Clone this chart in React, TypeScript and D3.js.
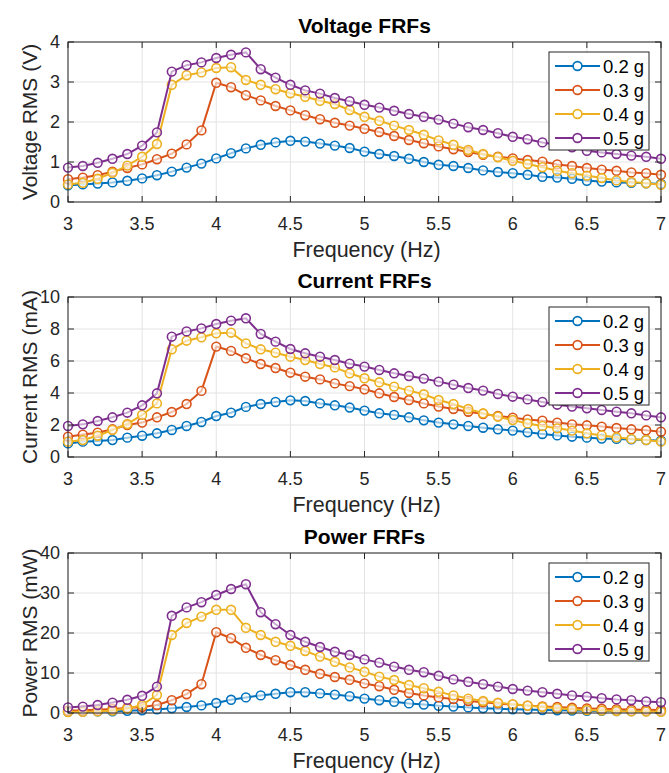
import * as d3 from 'd3';
import React from 'react';

// frequency points (Hz)
const freq = [3.0, 3.1, 3.2, 3.3, 3.4, 3.5, 3.6, 3.7, 3.8, 3.9, 4.0, 4.1, 4.2, 4.3, 4.4, 4.5, 4.6, 4.7, 4.8, 4.9,
  5.0, 5.1, 5.2, 5.3, 5.4, 5.5, 5.6, 5.7, 5.8, 5.9, 6.0, 6.1, 6.2, 6.3, 6.4, 6.5, 6.6, 6.7, 6.8, 6.9, 7.0];

const levels = ['0.2 g', '0.3 g', '0.4 g', '0.5 g'];
const colors = ['#0072BD', '#D95319', '#EDB120', '#7E2F8E'];
const xTicks = [3, 3.5, 4, 4.5, 5, 5.5, 6, 6.5, 7];

// voltage RMS (V)
const volt02 = [0.42, 0.44, 0.46, 0.49, 0.53, 0.59, 0.67, 0.76, 0.86, 0.96, 1.09, 1.22, 1.34, 1.43, 1.49, 1.53, 1.51, 1.46, 1.41, 1.35,
  1.26, 1.20, 1.15, 1.08, 1.00, 0.93, 0.90, 0.85, 0.79, 0.75, 0.72, 0.68, 0.63, 0.61, 0.58, 0.53, 0.51, 0.49, 0.48, 0.47, 0.45];
const volt03 = [0.57, 0.61, 0.67, 0.76, 0.85, 0.94, 1.07, 1.21, 1.44, 1.79, 2.98, 2.87, 2.67, 2.54, 2.40, 2.29, 2.17, 2.07, 1.98, 1.91,
  1.83, 1.75, 1.65, 1.55, 1.47, 1.39, 1.32, 1.25, 1.18, 1.13, 1.09, 1.05, 1.01, 0.94, 0.90, 0.85, 0.81, 0.78, 0.74, 0.72, 0.68];
const volt04 = [0.44, 0.48, 0.58, 0.73, 0.91, 1.13, 1.45, 2.93, 3.17, 3.24, 3.35, 3.37, 3.05, 2.93, 2.82, 2.72, 2.63, 2.53, 2.45, 2.30,
  2.13, 2.03, 1.91, 1.80, 1.68, 1.54, 1.43, 1.30, 1.20, 1.12, 1.03, 0.95, 0.87, 0.78, 0.72, 0.66, 0.60, 0.54, 0.50, 0.47, 0.43];
const volt05 = [0.86, 0.90, 0.98, 1.08, 1.20, 1.41, 1.74, 3.26, 3.42, 3.49, 3.60, 3.68, 3.74, 3.32, 3.11, 2.93, 2.79, 2.71, 2.60, 2.52,
  2.43, 2.36, 2.28, 2.20, 2.13, 2.06, 1.96, 1.87, 1.80, 1.72, 1.63, 1.57, 1.49, 1.43, 1.37, 1.28, 1.24, 1.20, 1.16, 1.13, 1.08];

// current RMS (mA)
const curr02 = [0.85, 0.96, 1.00, 1.06, 1.21, 1.33, 1.48, 1.69, 1.94, 2.19, 2.56, 2.77, 3.13, 3.31, 3.44, 3.54, 3.50, 3.35, 3.23, 3.09,
  2.90, 2.73, 2.63, 2.48, 2.29, 2.15, 2.04, 1.94, 1.83, 1.73, 1.65, 1.54, 1.44, 1.35, 1.27, 1.21, 1.15, 1.13, 1.10, 1.06, 1.02];
const curr03 = [1.27, 1.40, 1.52, 1.73, 2.00, 2.15, 2.48, 2.81, 3.31, 4.13, 6.90, 6.63, 6.17, 5.81, 5.56, 5.27, 5.02, 4.85, 4.60, 4.43,
  4.23, 3.98, 3.75, 3.56, 3.35, 3.15, 3.00, 2.83, 2.69, 2.56, 2.46, 2.35, 2.27, 2.15, 2.04, 1.98, 1.90, 1.81, 1.73, 1.67, 1.58];
const curr04 = [0.96, 1.06, 1.33, 1.69, 2.06, 2.63, 3.35, 6.73, 7.27, 7.48, 7.73, 7.77, 7.10, 6.73, 6.52, 6.27, 6.06, 5.81, 5.60, 5.23,
  4.92, 4.67, 4.40, 4.15, 3.92, 3.56, 3.31, 3.00, 2.73, 2.52, 2.31, 2.10, 1.94, 1.79, 1.65, 1.48, 1.35, 1.23, 1.13, 1.06, 0.96];
const curr05 = [1.94, 2.04, 2.25, 2.48, 2.77, 3.23, 3.98, 7.52, 7.85, 8.04, 8.31, 8.52, 8.67, 7.69, 7.21, 6.75, 6.48, 6.27, 6.06, 5.83,
  5.65, 5.44, 5.23, 5.06, 4.90, 4.71, 4.52, 4.31, 4.15, 3.94, 3.77, 3.60, 3.44, 3.27, 3.15, 3.04, 2.94, 2.83, 2.73, 2.60, 2.48];

// power RMS (mW)
const pow02 = [0.3, 0.35, 0.4, 0.45, 0.55, 0.7, 0.9, 1.2, 1.5, 1.9, 2.5, 3.3, 3.9, 4.4, 4.8, 5.2, 5.2, 4.9, 4.6, 4.2,
  3.6, 3.2, 2.8, 2.4, 2.1, 1.8, 1.6, 1.4, 1.2, 1.05, 0.95, 0.85, 0.75, 0.7, 0.62, 0.56, 0.52, 0.5, 0.48, 0.46, 0.44];
const pow03 = [0.6, 0.67, 0.83, 1.0, 1.25, 1.5, 2.0, 3.2, 4.7, 7.2, 20.2, 18.7, 16.3, 14.5, 13.2, 12.0, 10.8, 9.8, 9.0, 8.3,
  7.4, 6.7, 5.8, 5.0, 4.4, 3.9, 3.5, 3.0, 2.7, 2.4, 2.1, 1.85, 1.65, 1.5, 1.3, 1.15, 1.05, 0.95, 0.85, 0.8, 0.75];
const pow04 = [0.25, 0.3, 0.4, 0.6, 1.1, 2.0, 4.5, 19.5, 22.5, 24.1, 25.8, 25.8, 21.3, 19.5, 17.8, 16.8, 15.5, 14.1, 12.8, 11.4,
  10.3, 9.1, 8.25, 7.0, 6.2, 5.3, 4.4, 3.6, 3.0, 2.6, 2.2, 1.85, 1.5, 1.2, 0.95, 0.75, 0.6, 0.5, 0.4, 0.35, 0.3];
const pow05 = [1.4, 1.6, 2.0, 2.6, 3.3, 4.3, 6.6, 24.3, 26.4, 27.7, 29.5, 31.0, 32.2, 25.2, 22.2, 19.5, 17.8, 16.5, 15.3, 14.5,
  13.4, 12.6, 11.6, 10.8, 10.2, 9.3, 8.4, 7.8, 7.2, 6.6, 6.0, 5.6, 5.2, 4.8, 4.4, 4.1, 3.7, 3.4, 3.2, 2.9, 2.7];

const font = '"Liberation Sans", Arial, Helvetica, sans-serif';
const axisColor = '#262626';
const left = 68, right = 661;

function Panel({ title, ylabel, yTicks, series, top, bottom }) {
  const x = d3.scaleLinear().domain([3, 7]).range([left, right]);
  const y = d3.scaleLinear().domain([yTicks[0], yTicks[yTicks.length - 1]]).range([bottom, top]);
  const line = d3.line<number>().x((d, i) => x(freq[i])).y(d => y(d));
  const tl = 6;

  return (
    <g>
      {/* grid */}
      {xTicks.map(t => (
        <line key={'gx' + t} x1={x(t)} x2={x(t)} y1={top} y2={bottom} stroke="#e3e3e3" strokeWidth={1} />
      ))}
      {yTicks.map(t => (
        <line key={'gy' + t} x1={left} x2={right} y1={y(t)} y2={y(t)} stroke="#e3e3e3" strokeWidth={1} />
      ))}

      {/* series */}
      {series.map((s, k) => (
        <g key={'s' + k}>
          <path d={line(s) || ''} fill="none" stroke={colors[k]} strokeWidth={2} />
          {s.map((v, i) => (
            <circle key={i} cx={x(freq[i])} cy={y(v)} r={4.4} fill="white" fillOpacity={0.6} stroke={colors[k]} strokeWidth={1.6} />
          ))}
        </g>
      ))}

      {/* box and ticks */}
      <rect x={left} y={top} width={right - left} height={bottom - top} fill="none" stroke={axisColor} strokeWidth={1} />
      {xTicks.map(t => (
        <g key={'tx' + t}>
          <line x1={x(t)} x2={x(t)} y1={bottom} y2={bottom - tl} stroke={axisColor} />
          <line x1={x(t)} x2={x(t)} y1={top} y2={top + tl} stroke={axisColor} />
          <text x={x(t)} y={bottom + 28} textAnchor="middle" fontSize={18} fill={axisColor} fontFamily={font}>{t}</text>
        </g>
      ))}
      {yTicks.map(t => (
        <g key={'ty' + t}>
          <line x1={left} x2={left + tl} y1={y(t)} y2={y(t)} stroke={axisColor} />
          <line x1={right} x2={right - tl} y1={y(t)} y2={y(t)} stroke={axisColor} />
          <text x={left - 8} y={y(t)} dy="0.36em" textAnchor="end" fontSize={18} fill={axisColor} fontFamily={font}>{t}</text>
        </g>
      ))}

      {/* labels */}
      <text x={(left + right) / 2} y={top - 9} textAnchor="middle" fontSize={21} fontWeight="bold" fill="#000" fontFamily={font}>{title}</text>
      <text x={(left + right) / 2 + 2} y={bottom + 55} textAnchor="middle" fontSize={21.5} fill={axisColor} fontFamily={font}>Frequency (Hz)</text>
      <text transform={`translate(37,${(top + bottom) / 2}) rotate(-90)`} textAnchor="middle" fontSize={21} fill={axisColor} fontFamily={font}>{ylabel}</text>

      {/* legend */}
      <rect x={549} y={top + 10} width={100} height={98} fill="white" stroke={axisColor} strokeWidth={1} />
      {levels.map((lab, k) => {
        const ly = top + 24 + k * 24;
        return (
          <g key={'l' + k}>
            <line x1={555} x2={600} y1={ly} y2={ly} stroke={colors[k]} strokeWidth={2} />
            <circle cx={577.5} cy={ly} r={4.4} fill="white" stroke={colors[k]} strokeWidth={1.6} />
            <text x={603} y={ly} dy="0.36em" fontSize={18.5} fill="#000" fontFamily={font}>{lab}</text>
          </g>
        );
      })}
    </g>
  );
}

export default function App() {
  return (
    <svg width={669} height={773} style={{ position: 'absolute', left: 0, top: 0, background: 'white' }}>
      <Panel title="Voltage FRFs" ylabel="Voltage RMS (V)" yTicks={[0, 1, 2, 3, 4]}
        series={[volt02, volt03, volt04, volt05]} top={42} bottom={202} />
      <Panel title="Current FRFs" ylabel="Current RMS (mA)" yTicks={[0, 2, 4, 6, 8, 10]}
        series={[curr02, curr03, curr04, curr05]} top={297} bottom={457} />
      <Panel title="Power FRFs" ylabel="Power RMS (mW)" yTicks={[0, 10, 20, 30, 40]}
        series={[pow02, pow03, pow04, pow05]} top={553} bottom={713} />
    </svg>
  );
}
